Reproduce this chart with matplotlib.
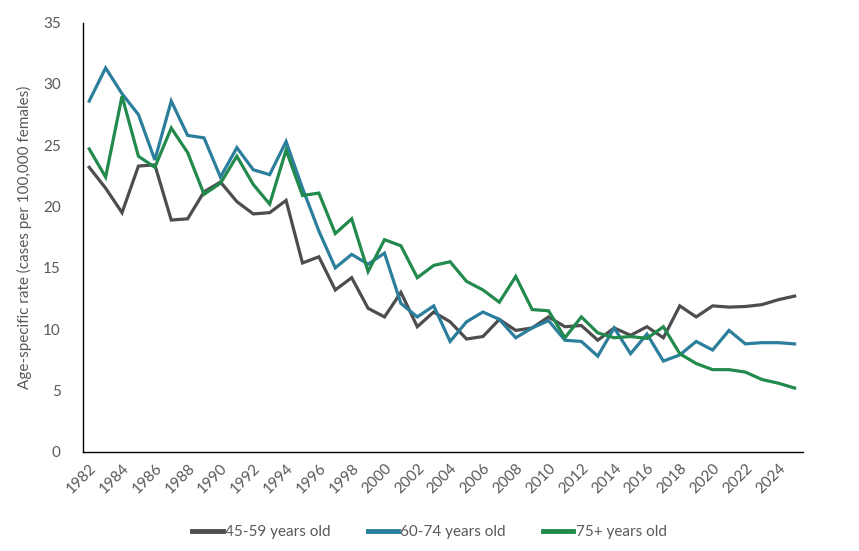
import matplotlib
matplotlib.use("Agg")
import matplotlib.pyplot as plt
import numpy as np

years = list(range(1982, 2026))
age_45_59 = [23.2, 21.5, 19.5, 23.3, 23.4, 18.9, 19.0, 21.2, 22.0, 20.4,
             19.4, 19.5, 20.5, 15.4, 15.9, 13.2, 14.2, 11.7, 11.0, 13.0,
             10.2, 11.4, 10.6, 9.2, 9.4, 10.8, 9.9, 10.1, 11.0, 10.2,
             10.3, 9.1, 10.1, 9.5, 10.2, 9.3, 11.9, 11.0, 11.9, 11.8,
             11.85, 12.0, 12.4, 12.7]
age_60_74 = [28.6, 31.3, 29.2, 27.5, 23.8, 28.6, 25.8, 25.6, 22.4, 24.8,
             23.0, 22.6, 25.3, 21.5, 18.0, 15.0, 16.1, 15.3, 16.2, 12.1,
             11.0, 11.9, 9.0, 10.6, 11.4, 10.8, 9.3, 10.1, 10.7, 9.1,
             9.0, 7.8, 10.1, 8.0, 9.6, 7.4, 7.9, 9.0, 8.3, 9.9,
             8.8, 8.9, 8.9, 8.8]
age_75p = [24.7, 22.4, 29.0, 24.1, 23.2, 26.4, 24.4, 21.0, 21.9, 24.1,
           21.8, 20.2, 24.6, 20.9, 21.1, 17.8, 19.0, 14.7, 17.3, 16.8,
           14.2, 15.2, 15.5, 13.9, 13.2, 12.2, 14.3, 11.6, 11.5, 9.3,
           11.0, 9.7, 9.3, 9.4, 9.25, 10.2, 8.0, 7.2, 6.7, 6.7,
           6.5, 5.9, 5.6, 5.2]
series_names = ["45-59 years old", "60-74 years old", "75+ years old"]
colors = ["#4d4d4f", "#2b7f9c", "#228a4c"]

plt.rcParams['font.family'] = ['Lato', 'DejaVu Sans']
fig = plt.figure(figsize=(8.59, 5.51), dpi=100)
ax = fig.add_axes([0.0966, 0.180, 0.838, 0.779])

x = np.arange(len(years))
for vals, name, c in zip([age_45_59, age_60_74, age_75p], series_names, colors):
    ax.plot(x, vals, color=c, lw=2.3, label=name, solid_joinstyle='miter')

ax.set_xlim(-0.38, len(years) - 0.5)
ax.set_ylim(0, 35)
ax.set_yticks(range(0, 36, 5))
ax.set_xticks(x[::2])
ax.set_xticklabels([str(y) for y in years[::2]], rotation=45, ha='right',
                   rotation_mode='anchor')
ax.tick_params(axis='both', length=0, colors='#595959', labelsize=11)
ax.tick_params(axis='x', pad=7)
ax.tick_params(axis='y', pad=16)
for s in ['top', 'right']:
    ax.spines[s].set_visible(False)
for s in ['left', 'bottom']:
    ax.spines[s].set_color('black')
    ax.spines[s].set_linewidth(1.0)
ax.set_ylabel("Age-specific rate (cases per 100,000 females)", color='#595959',
              fontsize=11, labelpad=8)

leg = fig.legend(loc='center', bbox_to_anchor=(0.5, 0.034), ncol=3, frameon=False,
                 fontsize=11, handlelength=2.0, handletextpad=0.15, columnspacing=2.4)
for t in leg.get_texts():
    t.set_color('#595959')
for h in leg.get_lines():
    h.set_linewidth(3.5)

fig.savefig("out.png", dpi=100)
